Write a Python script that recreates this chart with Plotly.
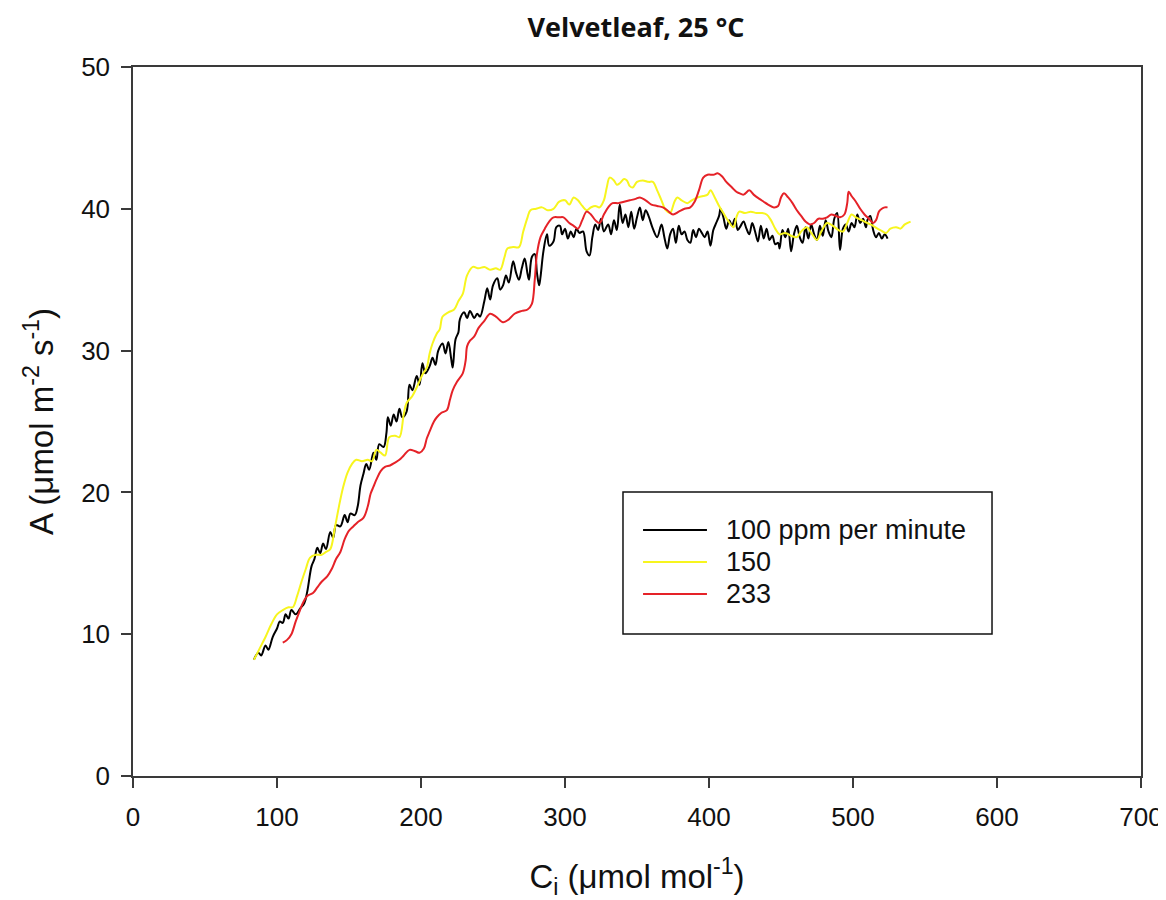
import plotly.graph_objects as go

# Ci (umol mol-1) and A (umol m-2 s-1)
ci_100 = [84, 87, 89, 92, 94, 97, 100, 102, 104, 106, 108, 110, 113, 116, 119, 121, 124, 126, 128, 130,
          132, 134, 137, 139, 141, 144, 147, 149, 151, 154, 156, 158, 160, 162, 164, 167, 169, 171, 174, 176,
          177, 179, 181, 183, 185, 187, 190, 192, 194, 197, 199, 201, 203, 206, 208, 210, 212, 215, 217, 219,
          221, 222, 224, 226, 227, 230, 232, 234, 237, 239, 241, 244, 246, 248, 250, 253, 255, 257, 259, 261,
          264, 266, 268, 270, 272, 274, 275, 277, 279, 280.5, 282, 283, 285, 287.5, 289, 292, 294, 296.5, 298, 300,
          302, 304, 306, 308, 310, 312.5, 315, 317, 319, 321, 323, 325, 327, 330, 332, 334, 336, 338, 340, 342,
          344, 346, 348, 350, 352, 354, 356, 358, 361, 364, 367, 369, 371, 373, 375, 377, 379, 381, 383, 385,
          387, 389, 391, 393, 395, 397, 399, 401, 403, 405, 407, 408, 410, 412, 414, 416, 418, 420, 422, 424,
          426, 428, 430, 432, 434, 436, 438, 440, 442, 444, 446, 448, 449, 451, 453, 455, 457, 459, 461, 463,
          465, 467, 469, 471, 473, 475, 477, 479, 481, 483, 485, 487, 489, 491, 493, 495, 497, 499, 501, 503,
          505, 507, 509, 510, 512, 514, 516, 518, 520, 522, 524]
a_100 = [8.2, 8.7, 8.5, 9.2, 8.9, 9.8, 10.4, 10.9, 10.8, 11.4, 11.1, 11.7, 11.4, 11.8, 12.2, 13.0, 14.8, 15.3, 16.1, 15.7,
         16.4, 16.0, 17.2, 16.8, 17.7, 17.6, 18.4, 17.9, 18.5, 18.4, 19.0, 20.5, 21.3, 22.0, 21.6, 22.8, 22.3, 23.4, 23.2, 24.2,
         25.3, 24.7, 25.5, 25.0, 25.9, 25.3, 25.7, 27.6, 27.2, 28.2, 27.6, 29.1, 28.4, 28.9, 29.5, 29.0, 30.0, 30.5, 29.8, 30.6,
         29.4, 28.8, 30.8, 31.3, 32.2, 32.7, 32.3, 32.8, 32.3, 32.6, 32.4, 33.5, 34.4, 33.6, 34.6, 35.1, 34.3, 34.6, 35.3, 34.8,
         36.3, 35.5, 35.0, 35.8, 36.5, 35.4, 35.0, 36.6, 36.8, 35.5, 34.6, 35.2, 37.0, 38.2, 37.4, 37.7, 38.7, 38.8, 38.2, 38.6,
         37.9, 38.4, 38.0, 38.6, 38.3, 38.4, 37.0, 36.7, 38.0, 38.9, 38.5, 39.3, 38.4, 38.9, 38.2, 39.2, 38.5, 40.3, 39.0, 39.6,
         38.7, 39.8, 38.6, 39.4, 40.1, 39.2, 39.9, 39.5, 38.6, 38.0, 38.9, 38.0, 37.2, 38.2, 38.6, 37.6, 38.8, 38.2, 38.4, 37.8,
         37.6, 38.5, 38.0, 38.6, 38.3, 38.0, 38.4, 37.4, 38.5, 39.0, 39.5, 40.0, 39.4, 38.6, 39.2, 38.8, 39.3, 38.5, 38.8, 39.1,
         38.6, 38.2, 39.0, 38.4, 37.7, 38.8, 37.9, 38.6, 37.8, 38.1, 37.5, 37.6, 37.2, 38.5, 38.0, 38.6, 37.0, 38.2, 38.8, 38.0,
         37.6, 38.7, 37.9, 38.9, 38.2, 37.8, 38.8, 38.1, 39.2, 38.4, 38.0, 39.3, 39.7, 37.1, 38.6, 38.9, 38.4, 39.0, 38.7, 39.6,
         39.0, 39.3, 38.7, 39.2, 39.5, 38.5, 38.0, 38.3, 37.9, 38.2, 37.9]

ci_150 = [84, 88, 92, 96, 100, 104, 108, 111, 114, 117, 120, 123, 127, 131, 134, 137, 140, 143, 146, 149,
          152, 155, 159, 163, 166, 169, 172, 175, 178, 182, 185, 188, 190, 194, 197, 201, 204, 206, 208, 211,
          213, 215, 219, 223, 226, 229, 232, 236, 240, 244, 248, 252, 255, 258, 260, 264, 268, 271, 274, 276,
          280, 284, 288, 292, 296, 300, 303, 306, 309, 312, 315, 318, 321, 324, 327, 329, 331, 334, 336, 338,
          341, 343, 345, 347, 350, 354, 358, 361, 364, 367, 370, 373, 376, 378, 381, 385, 388, 392, 396, 399,
          401, 404, 407, 410, 413, 417, 419, 421, 425, 429, 433, 437, 440, 443, 446, 449, 453, 457, 461, 464,
          468, 471, 475, 478, 482, 486, 490, 493, 496, 499, 502, 506, 510, 514, 517, 519, 523, 526, 530, 533,
          536, 540]
a_150 = [8.2, 9.0, 9.8, 10.7, 11.4, 11.7, 11.9, 11.9, 12.7, 13.7, 14.6, 15.4, 15.6, 15.6, 15.8, 16.0, 17.4, 19.0, 20.4, 21.4,
         22.0, 22.3, 22.2, 22.3, 22.2, 23.0, 22.8, 22.6, 23.9, 24.0, 23.9, 25.5, 26.3, 26.8, 27.4, 28.3, 28.8, 29.8, 30.5, 31.2,
         31.5, 32.4, 32.7, 32.9, 33.5, 34.0, 35.3, 35.9, 35.8, 35.9, 35.7, 35.8, 35.7, 36.6, 37.2, 37.3, 37.3, 38.4, 39.4, 39.9,
         40.0, 40.1, 39.9, 40.0, 40.5, 40.6, 40.3, 40.8, 40.6, 40.2, 39.9, 40.1, 40.2, 40.1, 40.6, 41.5, 42.2, 42.0, 41.7, 41.8,
         42.1, 42.0, 41.6, 41.5, 41.9, 42.0, 41.9, 41.9, 41.3, 40.6, 39.9, 39.7, 40.5, 40.8, 40.6, 40.4, 40.6, 40.8, 40.9, 41.0,
         41.3, 40.8, 40.2, 39.7, 39.2, 38.7, 39.4, 39.8, 39.7, 39.8, 39.7, 39.7, 39.6, 39.2, 38.6, 38.2, 38.3, 38.1, 38.0, 38.4,
         38.7, 38.3, 37.8, 38.4, 39.0, 38.8, 38.5, 38.4, 39.0, 39.6, 39.4, 39.2, 39.0, 38.8, 38.6, 38.5, 38.3, 38.6, 38.7, 38.6,
         38.9, 39.1]

ci_233 = [104, 107, 110, 113, 116, 118, 121, 125, 128, 131, 135, 138, 141, 144, 147, 150, 153, 156, 160, 163,
          165, 167, 169, 172, 175, 178.5, 182, 185, 188, 192, 196, 199, 202, 204, 206, 209, 211, 214, 218, 220,
          222, 225, 229, 231, 232, 234, 237, 240, 244, 248, 252, 257, 261, 265, 270, 274, 277, 279, 280.5, 283,
          286, 289, 292, 296, 299, 303, 306, 309, 312, 315, 318, 321, 324, 327, 330, 333, 337, 341, 345, 349,
          352, 356, 360, 364, 368, 371, 375, 379, 383, 387, 390, 393, 396, 399, 403, 406, 409, 412, 416, 419,
          421, 424, 428, 431, 435, 438, 441, 445, 448, 450, 452, 455, 458, 461, 464, 467, 470, 473, 476, 479,
          482, 485, 488, 491, 494, 496, 497, 499, 502, 505, 508, 511, 514, 516, 518, 520, 522, 524]
a_233 = [9.4, 9.6, 10.0, 10.9, 11.7, 12.2, 12.7, 12.9, 13.3, 13.7, 14.1, 14.6, 15.3, 15.8, 16.7, 17.3, 17.6, 17.9, 18.2, 19.0,
         19.9, 20.4, 20.9, 21.5, 21.8, 21.9, 22.1, 22.3, 22.6, 23.0, 22.9, 22.8, 23.1, 23.8, 24.3, 25.0, 25.3, 25.6, 25.8, 26.5,
         27.2, 27.8, 28.4, 29.3, 30.3, 30.7, 31.0, 31.6, 32.1, 32.6, 32.4, 32.0, 32.2, 32.6, 32.8, 32.9, 33.3, 35.0, 36.8, 38.0,
         38.6, 39.1, 39.4, 39.4, 39.4, 39.0, 38.8, 38.6, 39.2, 39.8, 39.6, 39.2, 39.0, 39.6, 40.1, 40.4, 40.4, 40.5, 40.6, 40.7,
         40.8, 40.6, 40.3, 40.2, 40.1, 39.9, 39.6, 39.8, 40.0, 40.1, 40.5, 41.3, 42.2, 42.4, 42.4, 42.5, 42.3, 41.9, 41.5, 41.2,
         41.1, 41.0, 41.3, 41.0, 40.7, 40.5, 40.3, 40.1, 40.2, 40.8, 41.1, 40.8, 40.4, 39.9, 39.5, 39.1, 38.9, 39.0, 39.3, 39.3,
         39.4, 39.6, 39.5, 39.4, 39.6, 40.4, 41.2, 40.9, 40.5, 40.0, 39.6, 39.3, 39.0, 39.2, 39.8, 40.0, 40.1, 40.1]

series = [
    ("100 ppm per minute", ci_100, a_100, "#000000"),
    ("150", ci_150, a_150, "#F7F51E"),
    ("233", ci_233, a_233, "#E52228"),
]

fig = go.Figure()
for name, x, y, color in series:
    fig.add_trace(go.Scatter(
        x=x, y=y, name=name, mode="lines", showlegend=False,
        line=dict(color=color, width=2, shape="spline", smoothing=1.0),
    ))

# legend box drawn by hand (paper coords) so the sample lines are long like the original
fig.add_shape(type="rect", xref="paper", yref="paper", x0=0.4861, x1=0.8522, y0=0.2003, y1=0.4006,
              line=dict(color="#111111", width=1.5), fillcolor="white", layer="above")
row_y = [0.347, 0.3018, 0.2567]
for (name, _, _, color), ry in zip(series, row_y):
    fig.add_shape(type="line", xref="paper", yref="paper", x0=0.506, x1=0.5694, y0=ry, y1=ry,
                  line=dict(color=color, width=2), layer="above")
    fig.add_annotation(text=name, xref="paper", yref="paper", x=0.5863, y=ry, xanchor="left",
                       yanchor="middle", showarrow=False,
                       font=dict(family="Liberation Sans", size=27, color="#111111"))

axis_style = dict(
    showgrid=False, zeroline=False, showline=True, linecolor="#3a3a3a", linewidth=1.5,
    mirror=True, ticks="outside", ticklen=10, tickwidth=1.5, tickcolor="#3a3a3a",
    tickfont=dict(family="Liberation Sans", size=26, color="#111111"), automargin=False,
)

# page body has an 8px margin, so the figure is 8px smaller and shifted
fig.update_layout(
    width=1158, height=892,
    margin=dict(l=125, r=25, t=59, b=124),
    paper_bgcolor="white", plot_bgcolor="white",
    title=dict(
        text="<b>Velvetleaf, 25 °C</b>", x=0.5423, xanchor="center", y=0.9776, yanchor="middle",
        font=dict(family="Open Sans", size=27, color="#111111"),
    ),
    xaxis=dict(
        range=[0, 700], tick0=0, dtick=100, ticklabelstandoff=7,
        title=dict(text="C<sub>i</sub> (μmol mol<sup>-1</sup>)", standoff=35,
                   font=dict(family="Liberation Sans", size=33, color="#111111")),
        **axis_style,
    ),
    yaxis=dict(
        range=[0, 50], tick0=0, dtick=10, ticklabelstandoff=6,
        title=dict(text="A (μmol m<sup>-2</sup> s<sup>-1</sup>)", standoff=18,
                   font=dict(family="Liberation Sans", size=33, color="#111111")),
        **axis_style,
    ),
)

fig.write_html("out.html")
